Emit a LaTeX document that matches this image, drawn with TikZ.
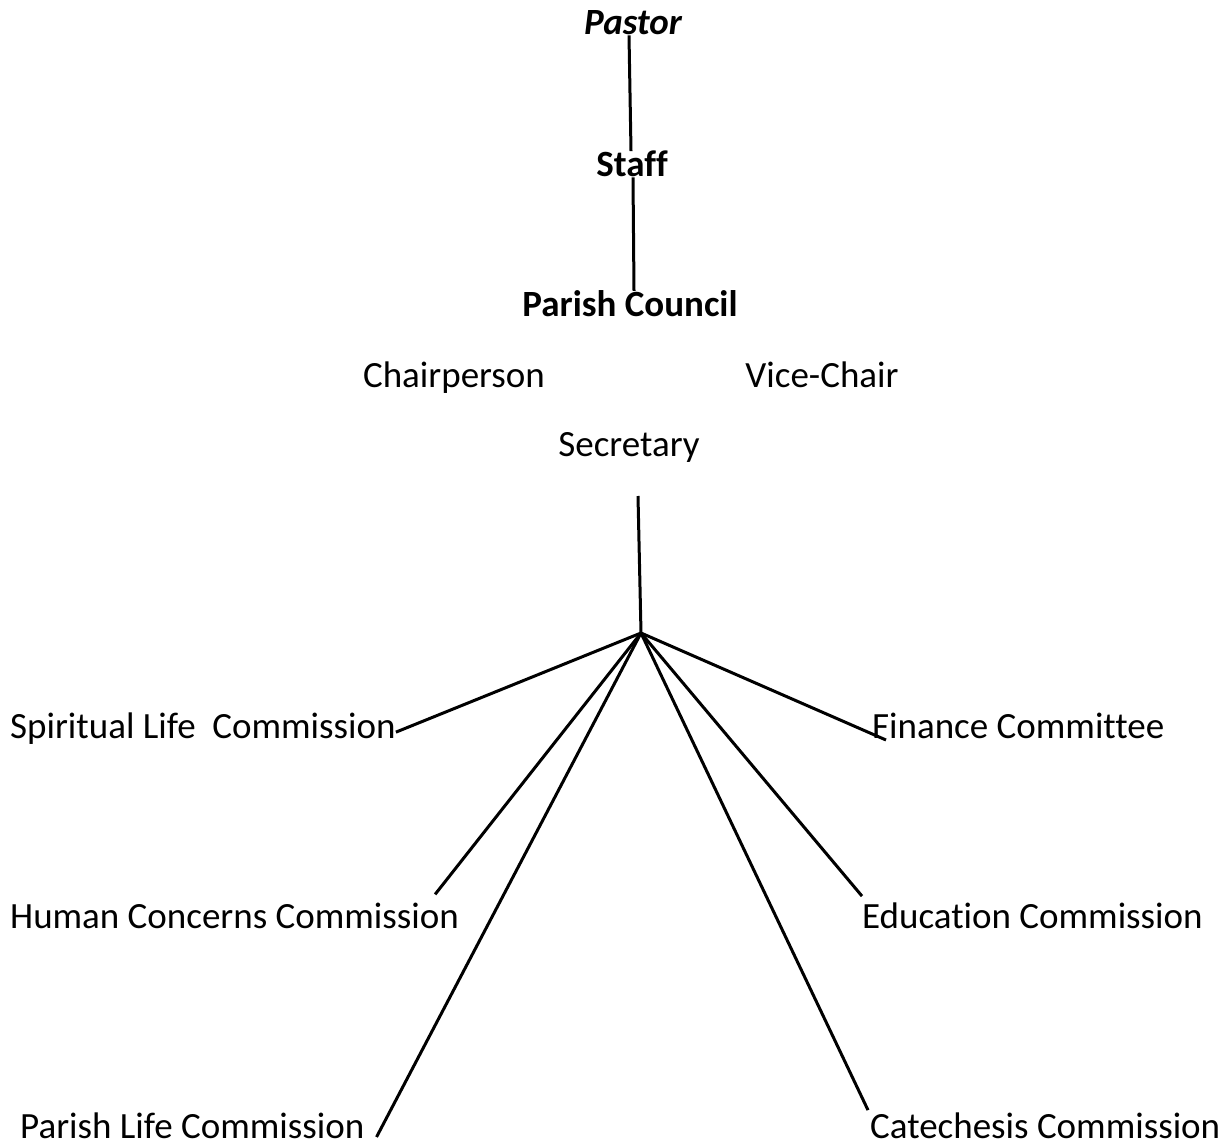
\documentclass[tikz,border=0pt]{standalone}
\usepackage{fontspec}
\setmainfont{Carlito}[Ligatures=CommonOff]
\usetikzlibrary{positioning}

\begin{document}
\begin{tikzpicture}[x=1pt,y=-1pt,
    lbl/.style={inner sep=0pt,anchor=base,font=\fontsize{37}{44}\selectfont},
    lbll/.style={lbl,anchor=base west},
    head/.style={lbl,font=\fontsize{37}{44}\selectfont\bfseries},
    link/.style={line width=3pt}]

    \useasboundingbox (0,0) rectangle (1231,1147);

    \node[head] at (633,35) (Pastor) {\itshape Pastor};
    \node[head] at (632,177) (Staff) {Staff};
    \node[head] at (630,317) (Council) {Parish Council};
    \node[lbl] at (454,388) (Chair) {Chairperson};
    \node[lbl] at (822,388) (Vice) {Vice-Chair};
    \node[lbl] at (629,456) (Sec) {Secretary};

    \node[lbll] at (10,738) (Spirit) {Spiritual Life\ \ Commission};
    \node[lbll] at (10,928) (Human) {Human Concerns Commission};
    \node[lbll] at (20,1138) (PLife) {Parish Life Commission};
    \node[lbll] at (872,738) (Fin) {Finance Committee};
    \node[lbll] at (862,928) (Edu) {Education Commission};
    \node[lbll] at (870,1138) (Cat) {Catechesis Commission};

    \coordinate (stem) at (638,496);
    \coordinate (hub) at (641,633);

    \draw[link] ([xshift=-4pt]Pastor.south) -- ([xshift=-1pt]Staff.north);
    \draw[link] ([xshift=1pt]Staff.south) -- ([xshift=4pt]Council.north);
    \draw[link] (stem) -- (hub);
    \draw[link] (hub) -- ([yshift=-4pt]Spirit.east);
    \draw[link] (hub) -- ([xshift=-24pt,yshift=8pt]Human.north east);
    \draw[link] (hub) -- ([xshift=12pt,yshift=1pt]PLife.base east);
    \draw[link] (hub) -- ([xshift=14pt,yshift=-2pt]Fin.base west);
    \draw[link] (hub) -- ([yshift=6pt]Edu.north west);
    \draw[link] (hub) -- ([xshift=-2pt,yshift=2pt]Cat.north west);
        \end{tikzpicture}
\end{document}
